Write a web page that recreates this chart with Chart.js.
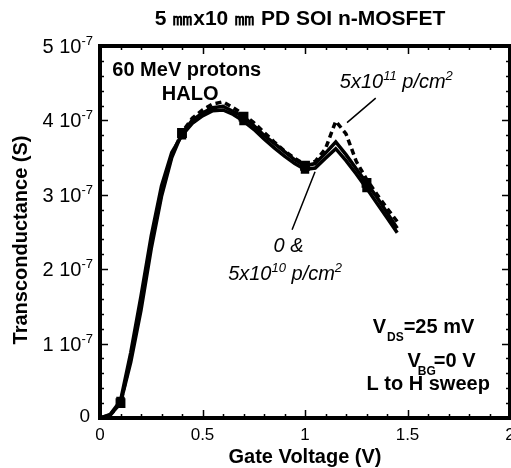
<!DOCTYPE html>
<html>
<head>
<meta charset="utf-8">
<script src="https://cdn.jsdelivr.net/npm/chart.js@4/dist/chart.umd.min.js"></script>
<style>
  html, body { margin: 0; padding: 0; background: #fff; }
  canvas { display: block; }
</style>
</head>
<body>
<canvas id="gm" width="511" height="468"></canvas>
<script>
// Gate voltage sweep points (V)
const gateVoltage = [0, 0.05, 0.1, 0.15, 0.2, 0.25, 0.3, 0.35, 0.4, 0.45, 0.5, 0.55, 0.6, 0.65, 0.7,
                     0.75, 0.8, 0.85, 0.9, 0.95, 1.0, 1.05, 1.1, 1.15, 1.2, 1.25, 1.3, 1.35, 1.4, 1.45];

// Transconductance, in units of 1e-7 S
const gmPreRad = [0, 0.04, 0.2, 0.75, 1.45, 2.28, 2.98, 3.5, 3.83, 4.0, 4.1, 4.17, 4.19, 4.12, 4.05,
                  3.93, 3.8, 3.69, 3.58, 3.47, 3.39, 3.42, 3.56, 3.71, 3.54, 3.35, 3.16, 2.97, 2.76, 2.55];
const gm5e10   = [0, 0.05, 0.23, 0.88, 1.64, 2.45, 3.12, 3.57, 3.8, 3.96, 4.06, 4.13, 4.14, 4.08, 3.99,
                  3.88, 3.75, 3.63, 3.52, 3.42, 3.34, 3.36, 3.49, 3.62, 3.46, 3.28, 3.09, 2.89, 2.69, 2.49];
const gm5e11   = [0, 0.04, 0.2, 0.8, 1.52, 2.34, 3.02, 3.53, 3.84, 4.03, 4.14, 4.22, 4.25, 4.17, 4.08,
                  3.97, 3.84, 3.71, 3.59, 3.49, 3.41, 3.45, 3.62, 3.99, 3.82, 3.45, 3.21, 3.01, 2.82, 2.64];

// Axis ticks
const xTickValues = [0, 0.5, 1, 1.5, 2];
const xTickLabels = ['0', '0.5', '1', '1.5', '2'];
const yTickValues = [0, 1, 2, 3, 4, 5];
const yTickMantissa = ['0', '1', '2', '3', '4', '5'];
const yTickExponent = '-7';

const FONT = '"Liberation Sans", Arial, Helvetica, sans-serif';
const toPoints = (ys) => gateVoltage.map((x, i) => ({ x, y: ys[i] }));

// square markers every 0.3 V starting at 0.1 V
const markerRadius = (r) => (ctx) => {
  const v = gateVoltage[ctx.dataIndex];
  const k = Math.round((v - 0.1) / 0.3 * 100) / 100;
  return (v >= 0.1 && Math.abs(k - Math.round(k)) < 1e-6) ? r : 0;
};

// Draws a run of text pieces; pieces with dy are smaller and shifted up/down,
// dx nudges a piece sideways before it is drawn.
function richText(ctx, parts, x, y, align, base) {
  const width = (p) => {
    ctx.font = p.font || base;
    return ctx.measureText(p.t).width + (p.dx || 0);
  };
  const total = parts.reduce((s, p) => s + width(p), 0);
  let cx = align === 'center' ? x - total / 2 : align === 'right' ? x - total : x;
  ctx.textAlign = 'left';
  ctx.textBaseline = 'alphabetic';
  parts.forEach((p) => {
    ctx.font = p.font || base;
    cx += p.dx || 0;
    ctx.fillText(p.t, cx, y + (p.dy || 0));
    cx += ctx.measureText(p.t).width;
  });
}

const framePlugin = {
  id: 'frame',
  afterDraw(chart) {
    const { ctx, chartArea: a, scales } = chart;
    const xs = scales.x, ys = scales.y;
    ctx.save();
    ctx.fillStyle = '#000';
    ctx.strokeStyle = '#000';

    // tick marks on all four sides, pointing inward
    ctx.lineWidth = 1.5;
    for (let i = 0; i <= 20; i++) {
      const v = i * 0.1;
      const px = Math.round(xs.getPixelForValue(v)) + 0.5;
      const len = i % 5 === 0 ? 8 : 4;
      ctx.beginPath();
      ctx.moveTo(px, a.bottom); ctx.lineTo(px, a.bottom - len);
      ctx.moveTo(px, a.top); ctx.lineTo(px, a.top + len);
      ctx.stroke();
    }
    for (let i = 0; i <= 25; i++) {
      const v = i * 0.2;
      const py = Math.round(ys.getPixelForValue(v)) + 0.5;
      const len = i % 5 === 0 ? 8 : 4;
      ctx.beginPath();
      ctx.moveTo(a.left, py); ctx.lineTo(a.left + len, py);
      ctx.moveTo(a.right, py); ctx.lineTo(a.right - len, py);
      ctx.stroke();
    }

    // heavy plot frame
    ctx.lineWidth = 4;
    ctx.strokeRect(a.left, a.top, a.right - a.left, a.bottom - a.top);

    // x tick labels
    ctx.font = '17px ' + FONT;
    ctx.textAlign = 'center';
    ctx.textBaseline = 'alphabetic';
    xTickValues.forEach((v, i) => {
      ctx.fillText(xTickLabels[i], xs.getPixelForValue(v), a.bottom + 22);
    });

    // y tick labels with power-of-ten exponent
    yTickValues.forEach((v, i) => {
      const py = ys.getPixelForValue(v) + 7;
      if (v === 0) {
        richText(ctx, [{ t: yTickMantissa[i] }], a.left - 10, py - 3, 'right', '19px ' + FONT);
      } else {
        richText(ctx, [
          { t: yTickMantissa[i] + ' 10' },
          { t: yTickExponent, font: '13px ' + FONT, dy: -8 }
        ], a.left - 7, py, 'right', '20px ' + FONT);
      }
    });

    // axis titles
    ctx.font = 'bold 20px ' + FONT;
    ctx.textAlign = 'center';
    ctx.fillText('Gate Voltage (V)', (a.left + a.right) / 2, a.bottom + 45);
    ctx.save();
    ctx.translate(27, 240);
    ctx.rotate(-Math.PI / 2);
    ctx.fillText('Transconductance (S)', 0, 0);
    ctx.restore();

    // chart title
    ctx.font = 'bold 21px ' + FONT;
    ctx.fillText('5 \u339Cx10 \u339C PD SOI n-MOSFET', 300, 25);

    const X = (v) => xs.getPixelForValue(v);
    const Y = (v) => ys.getPixelForValue(v);
    const bold = 'bold 20px ' + FONT;
    const ital = 'italic 20px ' + FONT;
    const supI = 'italic 13px ' + FONT;

    // experiment labels
    richText(ctx, [{ t: '60 MeV protons' }], X(0.06), Y(4.6), 'left', bold);
    richText(ctx, [{ t: 'HALO' }], X(0.44), Y(4.28), 'center', bold);

    // fluence labels and leader lines
    richText(ctx, [
      { t: '5x10' }, { t: '11', font: supI, dy: -8 }, { t: ' p/cm' },
      { t: '2', font: supI, dy: -8 }
    ], X(1.17), Y(4.43), 'left', ital);
    richText(ctx, [{ t: '0 &' }], X(0.92), Y(2.23), 'center', ital);
    richText(ctx, [
      { t: '5x10' }, { t: '10', font: supI, dy: -8 }, { t: ' p/cm' },
      { t: '2', font: supI, dy: -8 }
    ], X(0.625), Y(1.85), 'left', ital);

    ctx.lineWidth = 1.5;
    ctx.beginPath();
    ctx.moveTo(X(1.345), Y(4.30)); ctx.lineTo(X(1.205), Y(3.97));
    ctx.moveTo(X(1.049), Y(3.31)); ctx.lineTo(X(0.937), Y(2.53));
    ctx.stroke();

    // bias conditions
    const sub = 'bold 12px ' + FONT;
    richText(ctx, [{ t: 'V' }, { t: 'DS', font: sub, dy: 8, dx: 1 }, { t: '=25 mV' }], X(1.33), Y(1.14), 'left', bold);
    richText(ctx, [{ t: 'V' }, { t: 'BG', font: sub, dy: 8, dx: -3 }, { t: '=0 V', dx: -2 }], X(1.50), Y(0.68), 'left', bold);
    richText(ctx, [{ t: 'L to H sweep' }], X(1.30), Y(0.38), 'left', bold);

    ctx.restore();
  }
};

new Chart(document.getElementById('gm'), {
  type: 'line',
  data: {
    datasets: [
      {
        label: '0 p/cm2',
        data: toPoints(gmPreRad),
        borderColor: '#000', backgroundColor: '#000',
        borderWidth: 3.5, tension: 0,
        pointStyle: 'rect', pointRadius: markerRadius(4.5), pointHoverRadius: 0
      },
      {
        label: '5x10^10 p/cm2',
        data: toPoints(gm5e10),
        borderColor: '#000', backgroundColor: '#000',
        borderWidth: 3.5, tension: 0,
        pointStyle: 'rect', pointRadius: markerRadius(3.5), pointHoverRadius: 0
      },
      {
        label: '5x10^11 p/cm2',
        data: toPoints(gm5e11),
        borderColor: '#000', backgroundColor: '#000',
        borderWidth: 3.5, borderDash: [6, 4], tension: 0,
        pointRadius: 0
      }
    ]
  },
  options: {
    responsive: false,
    animation: false,
    devicePixelRatio: 1,
    layout: { padding: { left: 100, right: 1, top: 46, bottom: 50 } },
    plugins: { legend: { display: false }, tooltip: { enabled: false } },
    scales: {
      x: { type: 'linear', min: 0, max: 2, display: false },
      y: { type: 'linear', min: 0, max: 5, display: false }
    }
  },
  plugins: [framePlugin]
});
</script>
</body>
</html>
